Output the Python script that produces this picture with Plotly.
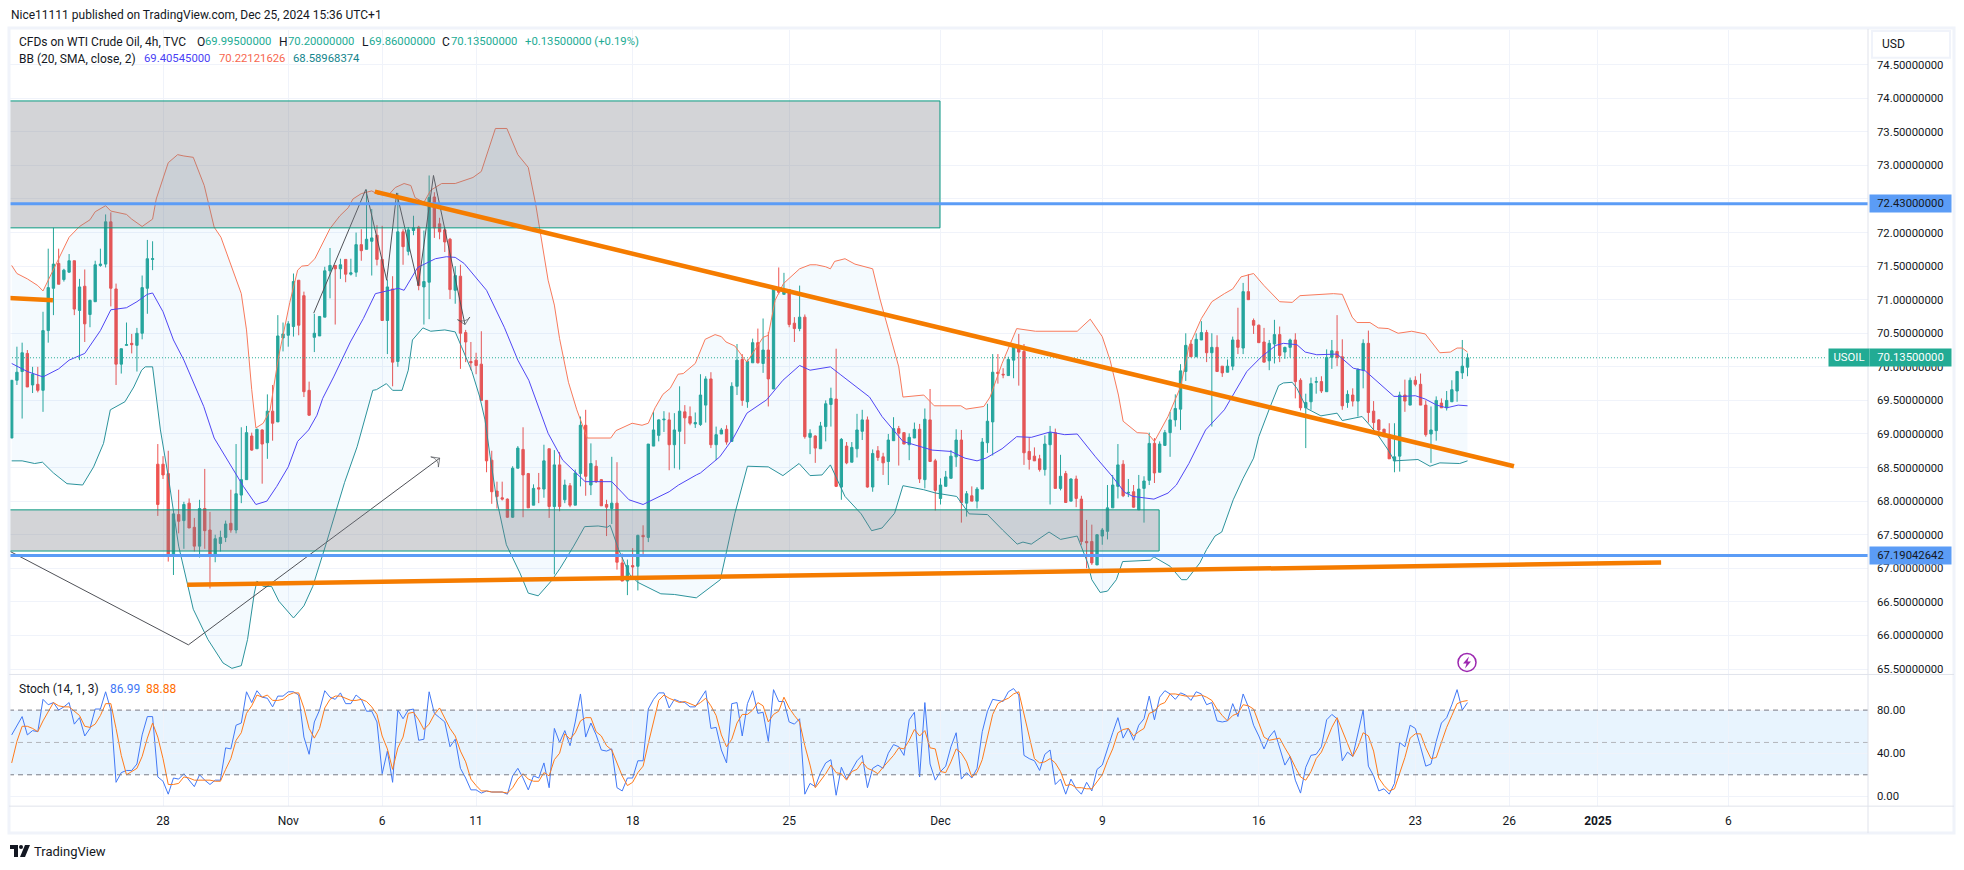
import plotly.graph_objects as go

W, H = 1964, 870
FONT = "Roboto"

opens = [
    68.94,69.80,69.93,70.20,69.73,69.74,69.65,70.54,71.17,71.54,
    71.30,71.41,71.58,70.84,71.20,70.78,70.97,71.51,71.53,72.16,
    71.16,70.04,70.32,70.35,70.32,70.50,71.17,71.60,68.55,68.55,
    68.41,67.18,67.80,67.71,67.97,67.61,67.33,67.89,67.57,67.19,
    67.37,67.46,67.67,67.57,68.09,68.32,68.97,68.78,69.06,68.87,
    69.34,69.18,70.43,70.47,70.60,71.29,71.06,69.65,70.44,70.46,
    70.74,71.43,71.51,71.46,71.60,71.38,71.41,71.82,71.75,71.87,
    71.96,71.60,70.69,71.16,70.08,72.01,71.72,72.03,72.08,71.19,
    71.26,72.53,72.13,72.04,71.90,71.14,71.35,70.51,70.08,70.10,
    70.04,69.50,68.61,68.15,68.05,68.03,67.76,68.49,68.77,68.41,
    67.94,68.20,68.18,68.78,67.92,68.54,68.02,68.23,67.94,68.41,
    69.13,68.24,68.52,68.32,67.95,67.89,67.97,67.08,66.81,67.04,
    67.03,67.49,67.46,68.82,68.98,69.21,69.21,68.84,69.04,69.33,
    69.26,69.15,69.14,69.43,69.82,68.84,69.00,69.07,68.89,69.71,
    70.11,69.48,70.06,70.36,70.05,70.25,69.67,71.17,71.08,71.15,
    70.65,70.57,70.74,68.95,68.97,68.78,69.11,69.44,69.52,68.21,
    68.82,68.58,68.78,69.04,69.21,68.21,68.75,68.66,68.59,68.90,
    69.08,69.02,68.84,68.94,69.07,68.32,69.21,68.60,68.04,68.22,
    68.34,68.66,68.91,67.97,68.08,68.00,68.18,68.87,69.18,69.92,
    69.89,69.87,70.10,70.31,70.23,68.74,68.67,68.63,68.47,68.84,
    69.02,68.19,68.41,68.00,68.33,68.03,67.40,67.40,67.05,67.48,
    67.55,67.90,68.22,68.55,68.12,68.14,67.87,68.19,68.31,68.86,
    68.43,68.83,69.02,69.21,69.37,69.93,70.34,70.15,70.40,70.51,
    70.21,70.29,70.01,69.92,70.01,70.40,70.28,71.12,70.69,70.62,
    70.37,70.09,70.34,70.48,70.22,70.29,70.40,69.80,69.39,69.48,
    69.77,69.78,69.63,70.14,70.23,70.15,69.47,69.58,69.49,69.95,
    70.35,69.34,69.21,69.07,68.99,68.60,68.67,69.58,69.43,69.80,
    69.74,69.43,69.00,69.05,69.46,69.39,69.48,69.64,69.91,69.995,
]
highs = [
    69.80,70.30,70.36,70.25,70.00,70.00,70.82,71.76,72.07,71.76,
    71.46,71.68,71.58,71.31,71.45,71.00,71.58,71.76,72.27,72.30,
    71.24,70.27,70.66,70.49,70.58,71.36,71.89,71.87,68.85,68.67,
    68.75,67.82,68.17,67.99,68.04,67.75,68.02,68.48,67.84,67.50,
    67.56,67.71,68.17,68.85,69.10,69.12,69.02,69.08,69.07,69.59,
    69.73,70.77,70.66,70.68,71.39,71.29,71.12,69.78,70.79,70.75,
    71.49,71.77,71.51,71.61,71.60,71.61,72.00,72.05,72.64,72.35,
    72.11,72.10,71.30,71.35,72.59,72.05,72.08,72.25,72.10,72.03,
    72.85,72.60,72.22,72.08,71.92,71.50,71.52,70.55,70.37,70.21,
    70.53,69.50,68.75,68.29,68.29,68.04,68.52,68.82,69.10,68.42,
    68.25,68.42,68.84,68.78,68.76,68.73,68.32,68.27,68.47,69.26,
    69.36,68.86,68.61,68.33,68.02,68.66,68.58,67.22,67.13,67.30,
    67.50,67.64,68.85,69.33,69.22,69.34,69.32,69.31,69.71,69.43,
    69.41,69.32,69.89,69.86,69.92,69.11,69.09,69.13,69.77,70.34,
    70.19,70.11,70.42,70.57,70.72,70.52,71.18,71.48,71.40,71.15,
    70.74,71.21,70.78,69.07,68.98,69.18,69.50,69.69,70.27,68.94,
    68.88,68.88,69.30,69.36,69.26,68.77,68.82,68.72,69.00,69.25,
    69.12,69.02,69.01,69.17,69.15,69.38,69.67,68.63,68.34,68.45,
    68.76,69.07,69.06,68.15,68.22,68.21,68.94,69.45,70.19,70.19,
    69.98,70.15,70.32,70.49,70.34,68.95,68.80,68.69,68.98,69.12,
    69.08,68.69,68.45,68.34,68.38,68.08,67.72,67.65,67.51,67.60,
    68.24,68.39,68.85,68.61,68.33,68.24,68.39,68.37,69.02,68.94,
    68.89,69.06,69.33,69.59,70.04,70.50,70.40,70.50,70.68,70.55,
    70.50,70.47,70.01,70.11,70.45,70.88,71.25,71.38,70.72,70.63,
    70.58,70.40,70.70,70.60,70.30,70.42,70.50,69.83,69.60,69.84,
    69.85,69.86,70.26,70.40,70.77,70.41,69.65,69.68,69.98,70.41,
    70.54,69.49,69.22,69.08,69.16,69.16,69.63,69.81,69.84,69.86,
    69.90,69.50,69.41,69.56,69.53,69.64,69.80,69.94,70.40,70.20,
]
lows = [
    68.94,69.73,69.23,69.70,69.61,69.62,69.33,70.36,70.77,71.23,
    71.27,71.40,70.77,70.10,70.37,70.59,70.97,71.49,71.48,70.90,
    69.73,69.90,70.32,70.20,69.93,70.41,70.79,71.44,67.78,68.33,
    67.10,66.90,67.52,67.29,67.60,67.25,67.16,67.29,66.70,67.09,
    67.25,67.39,67.53,67.52,67.97,68.32,68.75,68.78,68.26,68.63,
    68.90,69.18,70.23,70.30,70.45,70.47,69.55,69.27,70.22,70.46,
    70.74,71.02,70.63,71.31,71.26,71.36,71.34,71.58,71.75,71.36,
    71.51,70.69,70.19,69.71,70.00,71.52,71.66,71.96,71.14,70.63,
    70.71,71.92,71.90,71.71,71.01,70.94,69.97,70.07,69.95,69.89,
    69.50,68.43,67.96,67.89,68.01,67.75,67.75,68.49,67.76,67.90,
    67.94,67.97,68.05,67.75,66.91,67.85,67.97,67.91,67.94,68.22,
    68.08,68.09,68.27,67.93,67.48,67.66,66.98,66.81,66.60,66.88,
    66.67,67.18,67.39,68.82,68.89,69.03,68.46,68.49,68.47,68.85,
    69.13,69.09,69.12,69.17,68.79,68.61,69.00,68.84,68.89,69.58,
    69.42,69.39,70.06,70.05,69.91,69.41,69.67,71.08,71.08,70.59,
    70.37,70.53,68.93,68.70,68.57,68.78,68.89,69.11,68.21,68.02,
    68.55,68.58,68.65,68.91,68.20,68.14,68.60,68.39,68.24,68.90,
    68.53,68.85,68.61,68.94,68.27,68.19,68.59,67.86,67.95,68.22,
    68.34,68.51,67.68,67.77,68.00,67.89,68.18,68.72,68.68,69.75,
    69.83,69.87,69.83,69.72,68.54,68.47,68.60,68.44,68.38,67.95,
    68.19,68.16,67.98,68.00,67.91,67.35,67.00,67.05,67.05,67.35,
    67.43,67.90,68.04,68.06,68.06,67.90,67.87,67.68,68.24,68.27,
    68.43,68.83,68.66,69.11,69.06,69.79,70.15,70.15,70.40,70.07,
    69.11,69.93,69.85,69.92,69.95,70.19,70.19,71.00,70.49,70.36,
    70.07,69.95,70.05,70.07,70.12,70.14,69.53,69.35,68.79,69.36,
    69.60,69.61,69.63,69.97,70.01,69.36,69.39,69.41,69.26,69.68,
    69.17,69.06,68.96,68.96,68.63,68.43,68.44,69.33,69.43,69.71,
    69.43,68.96,68.57,68.90,69.39,69.35,69.48,69.48,69.82,69.86,
]
closes = [
    69.80,69.92,70.21,69.70,69.89,69.65,70.54,71.18,71.53,71.23,
    71.44,71.58,70.86,71.19,70.64,70.99,71.52,71.53,72.16,71.17,
    70.04,70.27,70.33,70.33,70.50,71.18,71.61,71.61,67.95,68.39,
    67.18,67.81,67.70,67.95,67.60,67.33,67.89,67.56,67.20,67.44,
    67.46,67.66,67.57,68.11,68.32,69.02,68.76,69.07,68.85,69.34,
    69.16,70.46,70.49,70.64,71.27,70.62,69.63,69.28,70.50,70.75,
    71.43,71.51,71.46,71.52,71.38,71.40,71.82,71.73,71.90,71.92,
    71.60,70.69,71.19,70.07,72.01,71.79,72.04,72.07,71.21,71.27,
    72.52,72.07,72.01,71.86,71.15,71.36,70.50,70.37,70.06,70.02,
    69.50,68.60,68.14,68.07,68.03,67.76,68.49,68.79,68.39,67.90,
    68.19,68.18,68.60,67.92,68.54,67.92,68.24,67.94,68.42,69.13,
    68.37,68.56,68.29,67.93,67.91,67.97,67.09,66.81,67.04,67.02,
    67.49,67.47,68.85,69.06,69.21,69.22,68.84,69.06,69.34,69.24,
    69.16,69.17,69.58,69.82,68.84,68.99,69.06,68.88,69.71,70.10,
    69.50,70.08,70.36,70.06,70.25,69.82,71.16,71.11,71.13,70.63,
    70.57,70.74,68.96,69.01,68.79,69.12,69.45,69.53,68.22,68.92,
    68.57,68.80,69.06,69.21,68.21,68.71,68.65,68.57,68.91,69.08,
    69.01,68.85,68.95,69.07,68.33,69.22,68.59,68.16,68.24,68.36,
    68.67,68.91,67.98,68.11,68.00,68.18,68.88,69.19,69.92,69.90,
    69.88,70.11,70.31,70.22,68.72,68.62,68.60,68.47,68.85,69.02,
    68.19,68.37,67.98,68.33,68.04,67.40,67.38,67.08,67.50,67.57,
    67.90,68.24,68.54,68.08,68.13,67.91,68.18,68.30,68.86,68.42,
    68.85,69.02,69.21,69.38,69.94,70.32,70.15,70.41,70.51,70.21,
    70.29,69.93,69.91,70.01,70.40,70.29,71.12,71.00,70.62,70.36,
    70.07,70.35,70.48,70.17,70.29,70.40,69.78,69.39,69.47,69.75,
    69.78,69.64,70.14,70.24,70.14,69.42,69.59,69.49,69.96,70.35,
    69.32,69.17,69.06,68.96,68.63,68.66,69.58,69.49,69.80,69.74,
    69.43,68.99,69.06,69.50,69.39,69.50,69.66,69.93,70.01,70.135,
]

upper_x = [0,1,3,5,6,8,11,13,15,16,18,19,22,23,25,27,27.7,30,31.8,33,34.8,36.9,38.8,40.1,42.2,44,45,46,46.8,
           48.2,49.5,50,51.1,53.3,54.8,55.6,56.8,58.1,59.7,61,62.9,64.5,65.4,67,69,70.2,72.1,73.5,75.2,76.5,
           77.3,79,80.3,82.4,85,88.4,90,92.7,94.9,97,99,100.4,102.8,104,105,106.7,108.3,110.3,114.8,115.8,
           118.9,120.8,122,123.3,124.8,126.2,127.7,128.7,131,132.9,134.8,136,136.9,138.6,140.2,140.9,144,145,
           146.3,147.9,151,153,154.2,156,156.9,157.7,159.7,161.6,165,166.4,168.4,170,170.8,174.8,176.8,181.9,
           182.9,186.3,187.5,189.8,192.6,196.2,204.2,206.7,209,210.5,212.1,213,215.7,217.7,219,221.6,224,225.6,
           228,230,232.4,234,235.6,238,240,243,245.4,246.9,253.3,255,256.9,257.8,260.3,261.9,263.8,265.7,268.3,
           270.9,273.7,275.7,277,278,279]
upper_y = [71.51,71.39,71.31,71.21,71.13,71.44,71.93,72.09,72.19,72.31,72.40,72.32,72.27,72.20,72.09,72.20,72.50,73.04,73.16,73.14,73.12,72.70,72.08,71.93,71.48,71.09,70.55,69.66,69.09,
           69.16,69.35,69.60,70.13,70.96,71.44,71.50,71.51,71.61,71.85,72.06,72.25,72.37,72.50,72.58,72.62,72.57,72.55,72.67,72.73,72.70,
           72.52,72.45,72.63,72.73,72.73,72.82,72.91,73.55,73.55,73.16,72.97,72.43,71.29,70.92,70.42,69.77,69.36,68.94,68.94,69.05,
           69.16,69.13,69.16,69.39,69.59,69.68,69.89,69.90,70.05,70.41,70.48,70.45,70.37,70.31,70.14,70.07,70.44,70.47,
           70.99,71.24,71.46,71.52,71.52,71.49,71.46,71.57,71.61,71.53,71.46,71.01,70.45,70.00,69.55,69.58,69.42,69.42,
           69.37,69.41,69.55,70.05,70.57,70.53,70.53,70.71,70.45,70.10,69.58,69.19,69.02,69.01,68.89,69.26,69.70,70.30,
           70.72,70.97,71.09,71.16,71.34,71.39,71.21,70.97,70.96,71.06,71.09,71.08,70.74,70.66,70.66,70.58,70.57,70.50,70.53,
           70.49,70.21,70.22,70.28,70.28,70.22]
basis_x = [0,3,6,9,11,14,17,19,22,24,26,27,29,31,33,35.5,36.8,38.8,41.9,44.4,46.8,48.9,50.8,53,54.8,56.9,58.5,59.6,61.7,
           64.9,67.4,69.7,71.9,74.1,75.2,77.8,81.2,83.3,85,86.7,91,94.4,97,99.1,102.8,105.6,109.9,115,118.3,121,126,
           127.8,131.2,132,135.7,138.3,140.9,144.7,147.8,151,153,156.9,158.9,162.8,164.4,166.8,170.8,176.4,180,182.7,
           185,186.7,189.8,192.6,195.4,199,201.8,204.2,207.7,210.9,213.3,214.9,218.9,221.6,223.2,225.6,228.8,232.4,
           236.7,239.5,242.3,243.7,246.3,247.9,250.1,254,255.2,257.1,259.4,262.8,264.9,266.6,269,270.9,273.1,275,277.2,279]
basis_y = [70.05,69.93,69.85,69.97,70.10,70.20,70.54,70.85,70.88,70.97,71.08,71.10,70.82,70.40,70.10,69.65,69.41,68.94,68.54,68.22,67.95,68.00,68.22,68.51,68.89,69.06,69.28,69.53,69.85,
           70.37,70.72,71.09,71.13,71.17,71.14,71.48,71.61,71.64,71.63,71.54,71.14,70.59,70.10,69.80,69.01,68.61,68.29,68.29,68.02,67.95,68.14,
           68.24,68.39,68.42,68.66,68.94,69.31,69.51,69.80,70.02,69.95,70.00,69.88,69.65,69.55,69.26,68.89,68.76,68.74,68.64,
           68.60,68.64,68.78,68.96,68.95,69.03,68.99,69.00,68.66,68.37,68.13,68.07,68.03,68.12,68.24,68.56,69.06,69.36,
           69.93,70.15,70.32,70.35,70.33,70.22,70.18,70.19,70.11,69.98,69.94,69.70,69.56,69.56,69.57,69.52,69.43,69.39,69.43,69.42]
lower_x = [0,2,4.4,5.9,8,10.6,13.6,15.7,17.6,18.9,21.7,23.4,24.9,25.6,27,28.5,30,32,34.8,37.6,40.5,42.2,44,45.2,46.5,47,48.2,49.8,
           51.2,54,56,57.7,60.2,63.8,66.2,69.2,69.9,71.8,73,74.8,76,76.8,78.8,80.3,83,85,86.2,88.2,89.7,90.7,91.7,92.9,94.8,96.1,97.4,99,
           100.9,103.4,105.1,107.7,109.8,112.4,114.1,114.7,116.3,118.4,120,124.4,127,131.2,135.8,137,138.6,141,145,147.8,150.9,153,155.3,
           156.9,159.7,162.8,164.8,166.8,169.2,170.8,174.8,177.1,181.1,183.5,187,189.9,192.7,193.8,195.4,198.8,201,204.2,206.2,207,208.6,
           210,211.7,212.9,215.6,218.2,218.9,222,224.2,225.2,227.7,229,230.6,231.9,234.1,236,238,239,241.2,242.8,243.7,245.4,246.3,248.2,
           250.9,254,255,258.8,261.6,263.8,265,269.5,271.8,273.7,277.5,279]
lower_y = [68.60,68.60,68.56,68.58,68.42,68.26,68.24,68.51,68.86,69.36,69.48,69.70,69.95,70.00,70.00,69.06,68.37,67.33,66.39,65.94,65.59,65.51,65.55,65.94,66.63,66.81,66.73,66.73,
           66.51,66.26,66.44,66.73,67.35,68.28,68.81,69.65,69.66,69.75,69.65,69.65,69.95,70.40,70.58,70.53,70.55,70.52,70.30,69.93,69.55,69.21,68.66,68.04,67.35,67.13,66.93,66.63,
           66.59,66.81,67.00,67.33,67.62,67.63,67.61,67.64,67.28,66.91,66.79,66.62,66.61,66.56,66.83,67.25,67.82,68.52,68.51,68.38,68.56,68.38,68.39,
           68.54,68.07,67.81,67.56,67.60,67.82,68.23,68.17,68.12,68.07,67.81,67.80,67.57,67.36,67.39,67.36,67.54,67.43,67.48,67.08,66.83,66.64,
           66.66,66.83,67.10,67.11,67.12,67.17,67.03,66.83,66.83,67.08,67.28,67.48,67.54,68.02,68.34,68.64,68.96,69.41,69.72,69.76,69.77,69.68,69.38,
           69.27,69.31,69.20,69.26,69.01,68.76,68.60,68.62,68.52,68.57,68.56,68.60]

stoch_k = [
    57,65,74,57,61,60,90,85,87,80, 83,87,67,73,56,63,81,81,97,80,
    13,22,24,24,30,57,74,74,18,14, 2,17,16,21,15,9,20,15,11,15,
    15,45,44,66,68,97,87,98,92,91, 83,93,93,97,97,94,55,39,69,80,
    98,92,90,96,86,86,94,90,79,79, 69,21,42,13,80,72,80,81,52,53,
    97,77,73,69,46,53,26,17,6,6, 3,5,4,4,4,2,19,26,17,6,
    19,17,31,8,63,50,61,47,69,95, 55,68,57,43,42,44,8,5,17,17,
    33,33,81,90,96,96,82,90,88,87, 83,83,91,98,63,64,43,31,86,87,
    56,86,98,77,78,51,99,88,88,69, 67,72,2,12,9,22,31,34,1,27,
    16,25,33,38,8,26,29,26,40,48, 46,38,71,78,18,87,30,15,23,28,
    46,59,16,22,17,26,60,79,90,89, 88,97,100,94,38,35,33,24,39,43,
    11,16,2,16,7,2,13,5,25,29, 45,59,73,54,63,52,66,72,93,71,
    92,98,95,90,96,94,89,97,95,85, 87,70,69,70,86,74,95,83,66,56,
    44,55,61,46,29,37,15,3,27,38, 39,46,71,76,72,33,41,37,60,80,
    28,19,5,7,2,12,50,46,66,63, 46,28,30,51,68,73,85,99,80,86.99,
]
stoch_d = [
    31,51,65,65,63,60,70,78,87,84, 83,83,79,75,65,64,67,75,86,86,
    63,38,20,23,26,37,54,68,55,35, 11,11,12,18,17,15,15,15,15,14,
    14,25,35,52,59,77,84,94,92,94, 89,89,90,94,96,96,82,63,54,63,
    82,90,93,93,91,89,89,90,88,83, 76,56,44,25,45,55,77,78,71,62,
    67,76,82,73,63,56,42,32,16,10, 5,5,4,4,4,3,8,16,21,16,
    14,14,22,19,34,40,58,53,59,70, 73,73,60,56,47,43,31,19,10,13,
    22,28,49,68,89,94,91,89,87,88, 86,84,87,91,84,75,57,46,53,68,
    76,76,80,87,84,69,76,79,92,82, 75,69,47,29,8,14,21,29,22,21,
    15,23,25,32,26,24,21,27,32,38, 45,44,52,62,56,61,45,44,23,22,
    32,44,40,32,18,22,34,55,76,86, 89,91,95,97,77,56,35,31,32,35,
    31,23,10,11,8,8,7,7,14,20, 33,44,59,62,63,56,60,63,77,79,
    85,87,95,95,94,93,93,93,94,92, 89,81,75,70,75,77,85,84,81,68,
    55,52,53,54,45,37,27,18,15,23, 35,41,52,64,73,60,49,37,46,59,
    56,42,17,10,5,7,21,36,54,58, 58,45,35,36,50,64,75,86,88,88.88,
]
assert len(opens) == len(highs) == len(lows) == len(closes) == len(stoch_k) == len(stoch_d) == 280
assert len(upper_x) == len(upper_y) and len(basis_x) == len(basis_y) and len(lower_x) == len(lower_y)

time_ticks = [29, 53, 71, 89, 119, 149, 178, 209, 239, 269, 287, 304, 329]
time_labels = ["28", "Nov", "6", "11", "18", "25", "Dec", "9", "16", "23", "26", "<b>2025</b>", "6"]
price_ticks = [65.5, 66, 66.5, 67, 67.5, 68, 68.5, 69, 69.5, 70, 70.5, 71, 71.5, 72, 72.5, 73, 73.5, 74, 74.5]
stoch_ticks = [0, 40, 80]

last_price = 70.135
res_level = 72.43
sup_level = 67.19042642
top_zone = (73.96, 72.07)
low_zone = (67.87, 67.257)
top_zone_end = 177.9
low_zone_end = 219.9
fall_trend = ([69.6, 287.9], [72.61, 68.52])
rise_trend = ([33.65, 316.1], [66.756, 67.086])
old_trend = ([-0.52, 7.9], [71.025, 70.99])
wave_a_x = [-0.52, 33.86, 82.02]
wave_a_y = [67.26, 65.86, 68.64]
wave_b_x = [57.88, 67.85, 71.87, 73.78, 77.92, 80.83, 86.87]
wave_b_y = [70.80, 72.64, 71.29, 72.59, 71.21, 72.85, 70.63]

UP, DOWN = "#26a69a", "#ef5350"
TEAL, INK = "#22ab94", "#131722"
GRID, EDGE = "#f0f3fa", "#e0e3eb"
ORANGE, BLUE = "#f57c00", "#5b9cf6"
ZONE_LINE, ZONE_FILL = "#089981", "rgba(120,123,134,0.33)"
VALUE_SIZE = 11.3


def px(x):
    return x / W


def py(y):
    return 1 - y / H


bars = list(range(len(closes)))
fig = go.Figure()

fig.add_trace(go.Candlestick(
    x=bars, open=opens, high=highs, low=lows, close=closes,
    increasing=dict(line=dict(color=UP, width=1), fillcolor=UP),
    decreasing=dict(line=dict(color=DOWN, width=1), fillcolor=DOWN),
    whiskerwidth=0, showlegend=False, hoverinfo="skip",
))
fig.add_trace(go.Scatter(x=upper_x, y=upper_y, mode="lines", line=dict(color="#f87a5c", width=1), showlegend=False))
fig.add_trace(go.Scatter(x=lower_x, y=lower_y, mode="lines", line=dict(color="#2b939c", width=1), fill="tonexty",
                         fillcolor="rgba(33,150,243,0.05)", showlegend=False))
fig.add_trace(go.Scatter(x=basis_x, y=basis_y, mode="lines", line=dict(color="#5046f5", width=1), showlegend=False))

for wx, wy in ((wave_a_x, wave_a_y), (wave_b_x, wave_b_y)):
    fig.add_trace(go.Scatter(
        x=wx, y=wy, mode="lines+markers", showlegend=False,
        line=dict(color="#4f5157", width=1),
        marker=dict(symbol="arrow-wide-open", angleref="previous", color="#4f5157",
                    size=[0] * (len(wx) - 1) + [9], line=dict(width=1, color="#4f5157")),
    ))

fig.add_trace(go.Scatter(x=bars, y=stoch_k, yaxis="y2", mode="lines", line=dict(color="#4178f6", width=1), showlegend=False))
fig.add_trace(go.Scatter(x=bars, y=stoch_d, yaxis="y2", mode="lines", line=dict(color="#ff7a1a", width=1), showlegend=False))

shapes = [
    # stochastic band
    dict(type="rect", xref="x domain", yref="y2", x0=0, x1=1, y0=20, y1=80, layer="below",
         fillcolor="rgba(33,150,243,0.1)", line_width=0),
    dict(type="line", xref="x domain", yref="y2", x0=0, x1=1, y0=80, y1=80, line=dict(color="#787b86", width=1, dash="5px,4px")),
    dict(type="line", xref="x domain", yref="y2", x0=0, x1=1, y0=50, y1=50, line=dict(color="#b3b5bc", width=1, dash="5px,4px")),
    dict(type="line", xref="x domain", yref="y2", x0=0, x1=1, y0=20, y1=20, line=dict(color="#787b86", width=1, dash="5px,4px")),
    # zones
    dict(type="rect", xref="x", yref="y", x0=-0.52, x1=top_zone_end, y0=top_zone[0], y1=top_zone[1],
         fillcolor=ZONE_FILL, line=dict(color=ZONE_LINE, width=1)),
    dict(type="rect", xref="x", yref="y", x0=-0.52, x1=low_zone_end, y0=low_zone[0], y1=low_zone[1],
         fillcolor=ZONE_FILL, line=dict(color=ZONE_LINE, width=1)),
    # levels
    dict(type="line", xref="x domain", yref="y", x0=0, x1=1, y0=res_level, y1=res_level, line=dict(color=BLUE, width=3)),
    dict(type="line", xref="x domain", yref="y", x0=0, x1=1, y0=sup_level, y1=sup_level, line=dict(color=BLUE, width=3)),
    dict(type="line", xref="x", yref="y", x0=-0.52, x1=347.9, y0=last_price, y1=last_price,
         line=dict(color=TEAL, width=1, dash="1px,2px")),
]
for tx, ty in (fall_trend, rise_trend, old_trend):
    shapes.append(dict(type="line", xref="x", yref="y", x0=tx[0], x1=tx[1], y0=ty[0], y1=ty[1],
                       line=dict(color=ORANGE, width=4.5)))


def paper_line(x0, y0, x1, y1, color=EDGE, width=1):
    return dict(type="line", xref="paper", yref="paper", x0=px(x0), x1=px(x1), y0=py(y0), y1=py(y1),
                line=dict(color=color, width=width))


shapes += [
    dict(type="rect", xref="paper", yref="paper", x0=px(9), x1=px(1954), y0=py(28), y1=py(835), line=dict(color=GRID, width=3)),
    paper_line(9, 676, 1954, 676),
    paper_line(9, 808, 1954, 808),
    paper_line(1868, 29, 1868, 835),
    # USD box
    dict(type="rect", xref="paper", yref="paper", x0=px(1872), x1=px(1950), y0=py(31), y1=py(58),
         fillcolor="white", line=dict(color=GRID, width=2)),
    # indicator badge
    dict(type="circle", xref="paper", yref="paper", x0=px(1458), x1=px(1476), y0=py(655), y1=py(673),
         line=dict(color="#9c27b0", width=1.5)),
    dict(type="path", xref="paper", yref="paper", fillcolor="#9c27b0", line_width=0,
         path=f"M {px(1469)} {py(658)} L {px(1463)} {py(665)} L {px(1466.5)} {py(665)} L {px(1465)} {py(670)} "
              f"L {px(1471)} {py(663)} L {px(1467.5)} {py(663)} Z"),
    # logo
    dict(type="path", xref="paper", yref="paper", fillcolor=INK, line_width=0,
         path=f"M {px(10)} {py(847)} L {px(18)} {py(847)} L {px(18)} {py(859)} L {px(14)} {py(859)} "
              f"L {px(14)} {py(851)} L {px(10)} {py(851)} Z"),
    dict(type="circle", xref="paper", yref="paper", x0=px(19), x1=px(23), y0=py(847), y1=py(851), fillcolor=INK, line_width=0),
    dict(type="path", xref="paper", yref="paper", fillcolor=INK, line_width=0,
         path=f"M {px(25)} {py(847)} L {px(30)} {py(847)} L {px(25)} {py(859)} L {px(20)} {py(859)} Z"),
]

notes = []


def text(x, y, s, color=INK, size=12):
    notes.append(dict(xref="paper", yref="paper", x=px(x), y=py(y), text=s, showarrow=False, xanchor="left",
                      yanchor="middle", borderpad=0, font=dict(color=color, size=size, family=FONT)))


def tag(x, width, price, s, bg, color):
    notes.append(dict(xref="paper", yref="y", x=px(x), y=price, text=s, showarrow=False, xanchor="left", yanchor="middle",
                      width=width, height=17, bgcolor=bg, borderpad=0, align="center",
                      font=dict(color=color, size=VALUE_SIZE, family=FONT)))


text(10, 15, "Nice11111 published on TradingView.com, Dec 25, 2024 15:36 UTC+1", size=12)
text(18, 42, "CFDs on WTI Crude Oil, 4h, TVC", size=12)
for lx, lab, vx, val in ((196, "O", 204, "69.99500000"), (278, "H", 287, "70.20000000"),
                         (361, "L", 368, "69.86000000"), (441, "C", 450, "70.13500000")):
    text(lx, 42, lab)
    text(vx, 42, val, TEAL, VALUE_SIZE)
text(524, 42, "+0.13500000 (+0.19%)", TEAL, VALUE_SIZE)
text(18, 59, "BB (20, SMA, close, 2)")
text(143, 59, "69.40545000", "#4a3ff5", VALUE_SIZE)
text(218, 59, "70.22121626", "#f7674f", VALUE_SIZE)
text(292, 59, "68.58968374", "#14858c", VALUE_SIZE)
text(18, 691, "Stoch (14, 1, 3)")
text(108.5, 691, "86.99", "#4178f6")
text(145, 691, "88.88", "#ff6d00")
text(1881, 44.5, "USD")
text(33, 853, "TradingView", size=13)
tag(1869, 81, res_level, "72.43000000", BLUE, INK)
tag(1869, 81, sup_level, "67.19042642", BLUE, INK)
tag(1828, 40, last_price, "USOIL", TEAL, "white")
tag(1869, 81, last_price, "70.13500000", TEAL, "white")

fig.update_layout(
    width=W, height=H, autosize=False, margin=dict(l=0, r=0, t=0, b=0),
    paper_bgcolor="white", plot_bgcolor="white", hovermode=False, showlegend=False,
    boxgap=0.36, font=dict(family=FONT, size=12, color=INK),
    xaxis=dict(domain=[px(9), px(1868)], anchor="y2", range=[-0.517, 355.75], rangeslider=dict(visible=False),
               tickmode="array", tickvals=time_ticks, ticktext=time_labels, showgrid=True, gridcolor=GRID,
               gridwidth=1, zeroline=False, ticklen=0, tickfont=dict(size=12, color=INK), ticklabelstandoff=6),
    yaxis=dict(domain=[py(676), py(30.5)], anchor="x", side="right", range=[65.419, 75.01], tickmode="array",
               tickvals=price_ticks, tickformat=".8f", gridcolor=GRID, gridwidth=1, zeroline=False,
               ticklen=0, tickfont=dict(size=VALUE_SIZE, color=INK), ticklabelstandoff=8),
    yaxis2=dict(domain=[py(808), py(676)], anchor="x", side="right", range=[-9.1, 113.1], tickmode="array",
                tickvals=stoch_ticks, tickformat=".2f", gridcolor=GRID, gridwidth=1, zeroline=False,
                ticklen=0, tickfont=dict(size=VALUE_SIZE, color=INK), ticklabelstandoff=8),
    shapes=shapes, annotations=notes,
)

fig.write_html("out.html", config=dict(displayModeBar=False),
               post_script="document.body.style.margin='0';document.body.style.overflow='hidden';")
